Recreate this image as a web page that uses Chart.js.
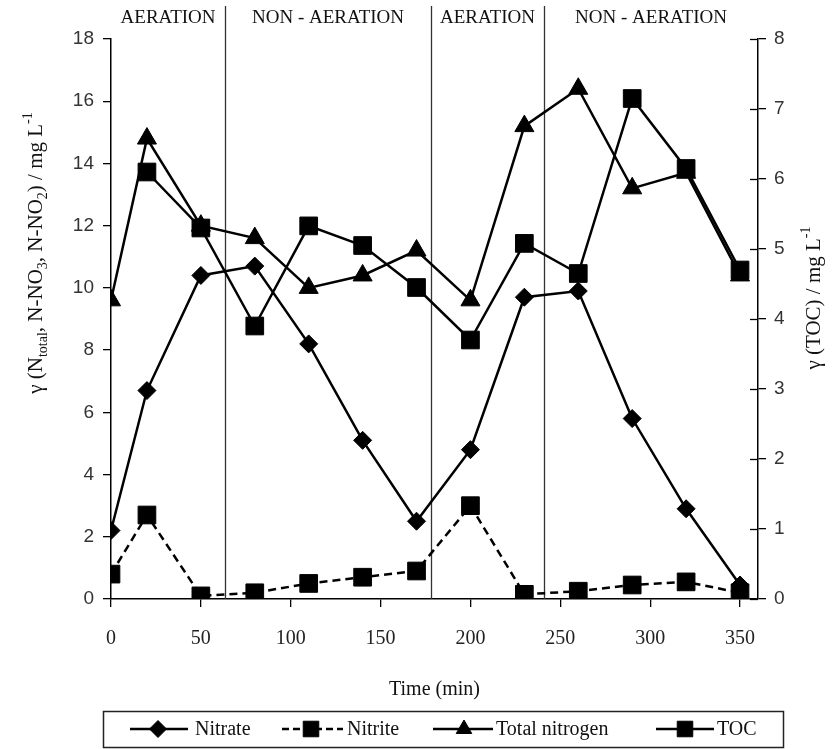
<!DOCTYPE html>
<html>
<head>
<meta charset="utf-8">
<script src="https://cdn.jsdelivr.net/npm/chart.js@4.4.0/dist/chart.umd.min.js"></script>
<style>
  html, body { margin: 0; padding: 0; background: #fff; }
  #wrap { width: 832px; height: 749px; }
</style>
</head>
<body>
<div id="wrap"><canvas id="chart" width="832" height="749"></canvas></div>
<script>
// dados
const times = [0, 20, 50, 80, 110, 140, 170, 200, 230, 260, 290, 320, 350];
const nitrate = [2.2, 6.7, 10.4, 10.7, 8.2, 5.1, 2.5, 4.8, 9.7, 9.9, 5.8, 2.9, 0.45];
const nitrite = [0.8, 2.7, 0.1, 0.2, 0.5, 0.7, 0.9, 3.0, 0.15, 0.25, 0.45, 0.55, 0.2];
const totalN = [9.6, 14.8, 12.0, 11.6, 10.0, 10.4, 11.2, 9.6, 15.2, 16.4, 13.2, 13.7, 10.4];
const toc = [null, 6.1, 5.3, 3.9, 5.33, 5.05, 4.45, 3.7, 5.08, 4.65, 7.15, 6.15, 4.7];

const phaseBounds = [63.5, 178, 241];
const phaseLabels = ['AERATION', 'NON - AERATION', 'AERATION', 'NON - AERATION'];
const xTicks = [0, 50, 100, 150, 200, 250, 300, 350];

const serif = '"Liberation Serif", "DejaVu Serif", serif';
const sans = '"Liberation Sans", Arial, sans-serif';

function pts(arr) {
  return times.map((t, i) => ({ x: t, y: arr[i] }));
}

function ds(label, arr, style, radius, axis, dash) {
  return {
    label: label,
    data: pts(arr),
    yAxisID: axis,
    borderColor: '#000',
    backgroundColor: '#000',
    borderWidth: 2.5,
    borderDash: dash || [],
    pointStyle: style,
    pointRadius: radius,
    pointHoverRadius: radius,
    pointBorderWidth: 1,
    tension: 0
  };
}

// rotulos das fases, linhas verticais, titulos e legenda
const extras = {
  id: 'extras',
  beforeDatasetsDraw(chart) {
    const ctx = chart.ctx;
    const xs = chart.scales.x;
    const area = chart.chartArea;
    ctx.save();
    ctx.strokeStyle = '#333';
    ctx.lineWidth = 1.3;
    phaseBounds.forEach(b => {
      const px = Math.round(xs.getPixelForValue(b)) + 0.5;
      ctx.beginPath();
      ctx.moveTo(px, 6);
      ctx.lineTo(px, area.bottom);
      ctx.stroke();
    });
    // labels das fases
    const edges = [area.left].concat(phaseBounds.map(b => xs.getPixelForValue(b))).concat([area.right]);
    ctx.fillStyle = '#111';
    ctx.font = '19px ' + serif;
    ctx.textAlign = 'center';
    ctx.textBaseline = 'middle';
    phaseLabels.forEach((lab, i) => {
      ctx.fillText(lab, (edges[i] + edges[i + 1]) / 2, 18);
    });
    ctx.restore();
  },
  afterDraw(chart) {
    const ctx = chart.ctx;
    const area = chart.chartArea;
    const yr = chart.scales.y2;
    ctx.save();
    // ticks internos do eixo direito
    ctx.strokeStyle = '#000';
    ctx.lineWidth = 1.3;
    yr.ticks.forEach(t => {
      const py = Math.round(yr.getPixelForValue(t.value)) + 0.5;
      ctx.beginPath();
      ctx.moveTo(area.right - 8, py);
      ctx.lineTo(area.right, py);
      ctx.stroke();
    });

    ctx.fillStyle = '#111';
    ctx.textBaseline = 'alphabetic';
    // titulo eixo x
    ctx.font = '20px ' + serif;
    ctx.textAlign = 'center';
    ctx.fillText('Time (min)', (area.left + area.right) / 2, 695);

    // titulos dos eixos y com sub/sobrescritos
    drawRich(ctx, 35, 253, [
      ['γ (N', 0], ['total', -1], [', N-NO', 0], ['3', -1], [', N-NO', 0], ['2', -1], [') / mg L', 0], ['-1', 1]
    ]);
    drawRich(ctx, 813, 298, [
      ['γ (TOC) / mg L', 0], ['-1', 1]
    ]);

    // legenda
    drawLegend(ctx);
    ctx.restore();
  }
};

function drawRich(ctx, cx, cy, parts) {
  ctx.save();
  ctx.translate(cx, cy);
  ctx.rotate(-Math.PI / 2);
  ctx.textAlign = 'left';
  let total = 0;
  parts.forEach(p => {
    ctx.font = (p[1] === 0 ? '21px ' : '14px ') + serif;
    total += ctx.measureText(p[0]).width;
  });
  let x = -total / 2;
  parts.forEach(p => {
    ctx.font = (p[1] === 0 ? '21px ' : '14px ') + serif;
    const dy = p[1] === -1 ? 5 : (p[1] === 1 ? -10 : 0);
    ctx.fillText(p[0], x, 7 + dy);
    x += ctx.measureText(p[0]).width;
  });
  ctx.restore();
}

function drawLegend(ctx) {
  ctx.save();
  ctx.strokeStyle = '#222';
  ctx.lineWidth = 1.5;
  ctx.strokeRect(103.5, 711.5, 680, 36);
  const y = 729;
  const items = [
    { x1: 130, x2: 188, m: 158, tx: 195, label: 'Nitrate', style: 'rectRot', r: 8.5, dash: [] },
    { x1: 282, x2: 343, m: 311, tx: 347, label: 'Nitrite', style: 'rect', r: 11, dash: [7, 4] },
    { x1: 433, x2: 493, m: 464, tx: 496, label: 'Total nitrogen', style: 'triangle', r: 9, dash: [] },
    { x1: 656, x2: 714, m: 685, tx: 717, label: 'TOC', style: 'rect', r: 11, dash: [] }
  ];
  items.forEach(it => {
    ctx.save();
    ctx.strokeStyle = '#000';
    ctx.lineWidth = 2.5;
    ctx.setLineDash(it.dash);
    ctx.beginPath();
    ctx.moveTo(it.x1, y);
    ctx.lineTo(it.x2, y);
    ctx.stroke();
    ctx.restore();
    ctx.fillStyle = '#000';
    ctx.strokeStyle = '#000';
    ctx.lineWidth = 1;
    Chart.helpers.drawPoint(ctx, { pointStyle: it.style, radius: it.r, rotation: 0, borderWidth: 1 }, it.m, y);
    ctx.fillStyle = '#111';
    ctx.font = '20px ' + serif;
    ctx.textAlign = 'left';
    ctx.textBaseline = 'middle';
    ctx.fillText(it.label, it.tx, y + 1);
  });
  ctx.restore();
}

new Chart(document.getElementById('chart'), {
  type: 'line',
  data: {
    datasets: [
      ds('Nitrate', nitrate, 'rectRot', 9, 'y'),
      ds('Nitrite', nitrite, 'rect', 12.5, 'y', [8, 5]),
      ds('Total nitrogen', totalN, 'triangle', 11, 'y'),
      ds('TOC', toc, 'rect', 12.5, 'y2')
    ]
  },
  options: {
    responsive: false,
    animation: false,
    layout: { padding: { top: 39, left: 0, right: 0, bottom: 0 } },
    plugins: {
      legend: { display: false },
      tooltip: { enabled: false }
    },
    scales: {
      x: {
        type: 'linear',
        min: 0,
        max: 360,
        afterBuildTicks: (s) => { s.ticks = xTicks.map(v => ({ value: v })); },
        afterFit: (s) => { s.height = 150; },
        grid: { drawOnChartArea: false, tickLength: 8, color: '#000', lineWidth: 1.3 },
        border: { color: '#000', width: 1.5 },
        ticks: { font: { family: serif, size: 20 }, color: '#222', padding: 20, maxRotation: 0 }
      },
      y: {
        position: 'left',
        min: 0,
        max: 18,
        afterFit: (s) => { s.width = 111; },
        grid: { drawOnChartArea: false, tickLength: 8, color: '#000', lineWidth: 1.3 },
        border: { color: '#000', width: 1.5 },
        ticks: { stepSize: 2, font: { family: sans, size: 19 }, color: '#333', padding: 9 }
      },
      y2: {
        position: 'right',
        min: 0,
        max: 8,
        afterFit: (s) => { s.width = 74; },
        grid: { drawOnChartArea: false, tickLength: 8, color: '#000', lineWidth: 1.3 },
        border: { color: '#000', width: 1.5 },
        ticks: { stepSize: 1, font: { family: sans, size: 19 }, color: '#333', padding: 8 }
      }
    }
  },
  plugins: [extras]
});
</script>
</body>
</html>
